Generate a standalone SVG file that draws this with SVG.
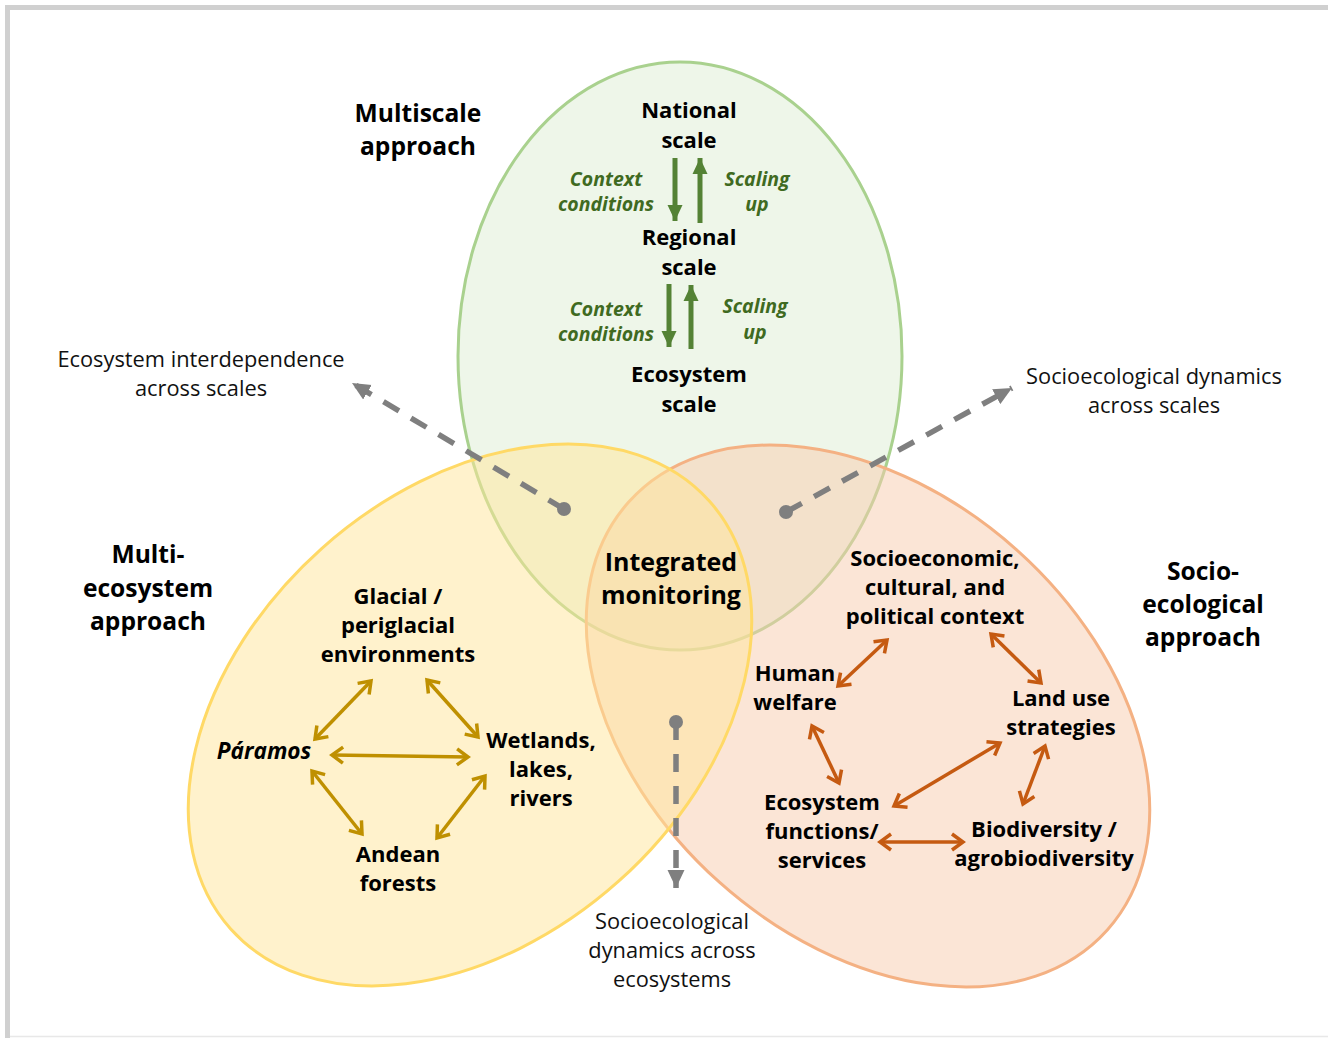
<svg xmlns="http://www.w3.org/2000/svg" width="1328" height="1038" viewBox="0 0 1328 1038">
<defs>
<style>
.b{font-family:"Open Sans","Liberation Sans",sans-serif;font-weight:700;fill:#000;text-anchor:middle}
.t22{font-size:22px}
.t24{font-size:24.6px}
.t26{font-size:25px}
.n{font-family:"Open Sans","Liberation Sans",sans-serif;font-weight:400;font-size:21.8px;fill:#111;text-anchor:middle}
.gi{font-family:"Open Sans","Liberation Sans",sans-serif;font-weight:700;font-style:italic;font-size:19.5px;fill:#3f6a21;text-anchor:middle}
.ya{fill:none;stroke:#bf9000;stroke-width:3.5;marker-start:url(#chy);marker-end:url(#chy)}
.oa{fill:none;stroke:#c55a11;stroke-width:3.5;marker-start:url(#cho);marker-end:url(#cho)}
.ga{fill:none;stroke:#548235;stroke-width:5;marker-end:url(#tg)}
.da{fill:none;stroke:#7f7f7f;stroke-width:5.5;stroke-dasharray:18 14;marker-end:url(#tgr)}
</style>
<marker id="chy" viewBox="-16 -10 20 20" markerWidth="20" markerHeight="20" refX="0" refY="0" orient="auto-start-reverse" markerUnits="userSpaceOnUse">
<path d="M-11,-8 L0,0 L-11,8" fill="none" stroke="#bf9000" stroke-width="3.5" stroke-linejoin="miter"/>
</marker>
<marker id="cho" viewBox="-16 -10 20 20" markerWidth="20" markerHeight="20" refX="0" refY="0" orient="auto-start-reverse" markerUnits="userSpaceOnUse">
<path d="M-11,-8 L0,0 L-11,8" fill="none" stroke="#c55a11" stroke-width="3.5" stroke-linejoin="miter"/>
</marker>
<marker id="tg" viewBox="-16 -8 16 16" markerWidth="16" markerHeight="16" refX="0" refY="0" orient="auto" markerUnits="userSpaceOnUse">
<path d="M-16,-7.5 L0,0 L-16,7.5 Z" fill="#548235"/>
</marker>
<marker id="tgr" viewBox="-18 -9 18 18" markerWidth="18" markerHeight="18" refX="0" refY="0" orient="auto" markerUnits="userSpaceOnUse">
<path d="M-18,-8.5 L0,0 L-18,8.5 Z" fill="#7f7f7f"/>
</marker>
</defs>
<rect width="1328" height="1038" fill="#fff"/>
<g id="frame">
<line x1="5" y1="7.5" x2="1328" y2="7.5" stroke="#d0d0d0" stroke-width="5"/>
<line x1="7.5" y1="5" x2="7.5" y2="1038" stroke="#d0d0d0" stroke-width="5"/>
<line x1="10" y1="1036.5" x2="1328" y2="1036.5" stroke="#e8e8e8" stroke-width="1.5"/>
</g>
<g id="circles">
<ellipse id="multiscale" cx="680" cy="356" rx="222" ry="294" fill="#ddedd3" fill-opacity="0.5" stroke="#a9d18e" stroke-width="3"/>
<ellipse id="socioecological" cx="868" cy="716" rx="321" ry="223" transform="rotate(41.8 868 716)" fill="#f7cbad" fill-opacity="0.5" stroke="#f4b183" stroke-width="3"/>
<ellipse id="multiecosystem" cx="470" cy="715" rx="321" ry="223" transform="rotate(-41.8 470 715)" fill="#ffe599" fill-opacity="0.5" stroke="#ffd966" stroke-width="3"/>
</g>
<g id="labels-approach">
<text class="b t24" x="418" y="122">Multiscale</text>
<text class="b t24" x="418" y="155">approach</text>
<text class="b t24" x="148" y="563">Multi-</text>
<text class="b t24" x="148" y="597">ecosystem</text>
<text class="b t24" x="148" y="630">approach</text>
<text class="b t24" x="1203" y="580">Socio-</text>
<text class="b t24" x="1203" y="613">ecological</text>
<text class="b t24" x="1203" y="646">approach</text>
</g>
<g id="integrated">
<text class="b t26" x="671" y="571">Integrated</text>
<text class="b t26" x="671" y="604">monitoring</text>
</g>
<g id="national"><text class="b t22" x="689" y="118">National</text><text class="b t22" x="689" y="148">scale</text></g>
<g id="regional"><text class="b t22" x="689" y="245">Regional</text><text class="b t22" x="689" y="275">scale</text></g>
<g id="ecosystem-scale"><text class="b t22" x="689" y="382">Ecosystem</text><text class="b t22" x="689" y="412">scale</text></g>
<g id="scale-labels">
<text class="gi" x="606" y="186">Context</text><text class="gi" x="606" y="211">conditions</text>
<text class="gi" x="757" y="186">Scaling</text><text class="gi" x="757" y="211">up</text>
<text class="gi" x="606" y="316">Context</text><text class="gi" x="606" y="341">conditions</text>
<text class="gi" x="755" y="313">Scaling</text><text class="gi" x="755" y="339">up</text>
</g>
<g id="glacial"><text class="b t22" x="398" y="604">Glacial /</text><text class="b t22" x="398" y="633">periglacial</text><text class="b t22" x="398" y="662">environments</text></g>
<g id="paramos"><text class="b" x="264" y="759" font-style="italic" font-size="22.6">Páramos</text></g>
<g id="wetlands"><text class="b t22" x="541" y="748">Wetlands,</text><text class="b t22" x="541" y="777">lakes,</text><text class="b t22" x="541" y="806">rivers</text></g>
<g id="andean"><text class="b t22" x="398" y="862">Andean</text><text class="b t22" x="398" y="891">forests</text></g>
<g id="socioeconomic"><text class="b t22" x="935" y="566">Socioeconomic,</text><text class="b t22" x="935" y="595">cultural, and</text><text class="b t22" x="935" y="624">political context</text></g>
<g id="human"><text class="b t22" x="795" y="681">Human</text><text class="b t22" x="795" y="710">welfare</text></g>
<g id="landuse"><text class="b t22" x="1061" y="706">Land use</text><text class="b t22" x="1061" y="735">strategies</text></g>
<g id="ecofunc"><text class="b t22" x="822" y="810">Ecosystem</text><text class="b t22" x="822" y="839">functions/</text><text class="b t22" x="822" y="868">services</text></g>
<g id="biodiv"><text class="b t22" x="1044" y="837">Biodiversity /</text><text class="b t22" x="1044" y="866">agrobiodiversity</text></g>
<g id="notes">
<text class="n" x="201" y="367">Ecosystem interdependence</text><text class="n" x="201" y="396">across scales</text>
<text class="n" x="1154" y="384">Socioecological dynamics</text><text class="n" x="1154" y="413">across scales</text>
<text class="n" x="672" y="929">Socioecological</text><text class="n" x="672" y="958">dynamics across</text><text class="n" x="672" y="987">ecosystems</text>
</g>
<g id="connectors">
<path class="ga" d="M675,158 L675,221"/>
<path class="ga" d="M700,223 L700,158"/>
<path class="ga" d="M669,284 L669,347"/>
<path class="ga" d="M691,349 L691,285"/>
<path class="ya" d="M371,681 L315,739"/>
<path class="ya" d="M427,680 L478,737"/>
<path class="ya" d="M332,755 L468,757"/>
<path class="ya" d="M312,771 L362,834"/>
<path class="ya" d="M485,776 L437,838"/>
<path class="oa" d="M838,686 L887,640"/>
<path class="oa" d="M991,634 L1041,683"/>
<path class="oa" d="M812,726 L839,783"/>
<path class="oa" d="M894,806 L1000,743"/>
<path class="oa" d="M1045,746 L1023,804"/>
<path class="oa" d="M880,842 L963,842"/>
<path class="da" d="M564,509 L352,383"/>
<path class="da" d="M786,512 L1012,388"/>
<path class="da" d="M676,722 L676,888"/>
<circle cx="564" cy="509" r="7" fill="#7f7f7f"/>
<circle cx="786" cy="512" r="7" fill="#7f7f7f"/>
<circle cx="676" cy="722" r="7" fill="#7f7f7f"/>
</g>
</svg>
